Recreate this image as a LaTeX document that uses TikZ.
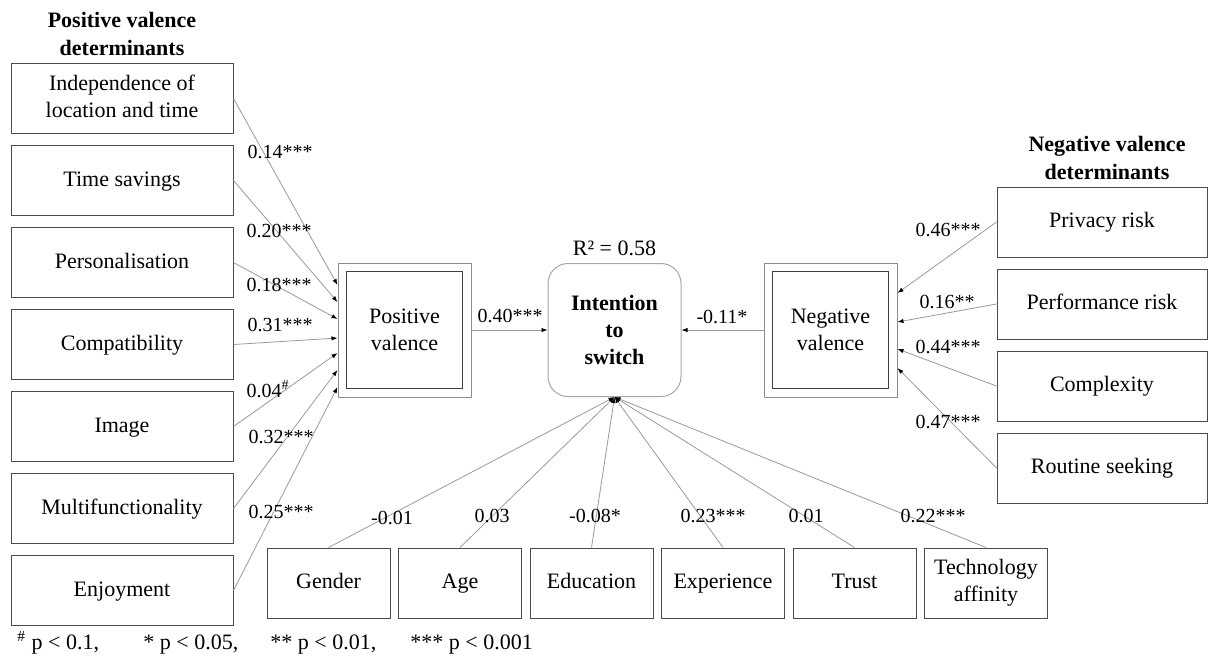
\documentclass[tikz,border=0pt]{standalone}
\usepackage{fontspec}
\setmainfont{Liberation Serif}
\newfontfamily\boxfont{Liberation Serif}
\newcommand\boxstrut{\vrule width 0pt height 8pt depth 2.4pt}
\usetikzlibrary{arrows.meta, positioning, calc}

\begin{document}
\begin{tikzpicture}[
  x=0.5pt, y=-0.5pt,
  font=\boxfont\fontsize{11}{13.5}\selectfont,
  node distance=5.5pt,
  detbox/.style  ={rectangle, draw=black!70, line width=0.5pt, minimum width=111pt, minimum height=35pt, align=center, inner sep=2pt,
                   font=\boxfont\fontsize{11}{13.5}\selectfont, execute at begin node=\boxstrut, execute at end node=\boxstrut},
  riskbox/.style ={detbox, minimum width=105pt},
  ctrlbox/.style ={detbox, minimum width=61.5pt},
  latent/.style  ={rectangle, draw=black!45, line width=0.5pt, minimum width=66.5pt, minimum height=67pt},
  latentin/.style={rectangle, draw=black!75, line width=0.5pt, minimum width=58pt, minimum height=58.5pt, align=center,
                   font=\boxfont\fontsize{11}{13.5}\selectfont},
  target/.style  ={rectangle, rounded corners=10pt, draw=black!35, line width=0.5pt, minimum width=66.5pt, minimum height=66.5pt, align=center,
                   font=\boxfont\fontsize{11}{13.5}\selectfont\bfseries},
  heading/.style ={align=center, font=\boxfont\fontsize{11}{14}\selectfont\bfseries},
  coef/.style    ={font=\boxfont\fontsize{10}{12}\selectfont, inner sep=0pt},
  note/.style    ={anchor=base west, inner sep=0pt, font=\boxfont\fontsize{11}{13}\selectfont},
  link/.style    ={-{Latex[length=3pt,width=2.2pt,color=black]}, draw=black!40, line width=0.4pt}
]
\useasboundingbox (0,0) rectangle (1216,661);

% ---- positive valence determinants (left column) ----
\node[heading] (poshead) at (122,34) {Positive valence\\determinants};
\node[detbox] (indep) at (122,98.5) {Independence of\\location and time};
\node[detbox] (tsave) [below=of indep] {Time savings};
\node[detbox] (perso) [below=of tsave] {Personalisation};
\node[detbox] (compa) [below=of perso] {Compatibility};
\node[detbox] (image) [below=of compa] {Image};
\node[detbox] (multi) [below=of image] {Multifunctionality};
\node[detbox] (enjoy) [below=of multi] {Enjoyment};

% ---- valences and outcome (middle row) ----
\node[latent]   (pv) at (404.5,330) {};
\node[latentin] (pvtext) at (pv.center) {Positive\\valence};
\node[target]   (it) [right=38pt of pv] {Intention\\to\\switch};
\node[coef, font=\boxfont\fontsize{11}{13}\selectfont] (rsq) [above=3.5pt of it] {R² = 0.58};
\node[latent]   (nv) [right=41pt of it] {};
\node[latentin] (nvtext) at (nv.center) {Negative\\valence};

% ---- negative valence determinants (right column) ----
\node[heading] (neghead) at (1107,158) {Negative valence\\determinants};
\node[riskbox] (priv) at (1102,222) {Privacy risk};
\node[riskbox] (perf) [below=of priv] {Performance risk};
\node[riskbox] (cplx) [below=of perf] {Complexity};
\node[riskbox] (rout) [below=of cplx] {Routine seeking};

% ---- control variables (bottom row) ----
\node[ctrlbox] (gender) at (328.5,583) {Gender};
\node[ctrlbox] (age)   [right=3.75pt of gender] {Age};
\node[ctrlbox] (edu)   [right=3.75pt of age] {Education};
\node[ctrlbox] (exper) [right=3.75pt of edu] {Experience};
\node[ctrlbox] (trust) [right=3.75pt of exper] {Trust};
\node[ctrlbox] (techaff) [right=3.75pt of trust] {Technology\\affinity};

% ---- edges ----
\draw[link] (indep.east) -- ($(pv.west)+(0,-45)$);
\draw[link] (tsave.east) -- ($(pv.west)+(0,-28)$);
\draw[link] (perso.east) -- ($(pv.west)+(0,-11)$);
\draw[link] (compa.east) -- ($(pv.west)+(0,8)$);
\draw[link] (image.east) -- ($(pv.west)+(0,23)$);
\draw[link] (multi.east) -- ($(pv.west)+(0,40)$);
\draw[link] (enjoy.east) -- ($(pv.west)+(0,57)$);

\draw[link] (priv.west) -- ($(nv.east)+(0,-37)$);
\draw[link] (perf.west) -- ($(nv.east)+(0,-8)$);
\draw[link] (cplx.west) -- ($(nv.east)+(0,19)$);
\draw[link] (rout.west) -- ($(nv.east)+(0,38)$);

\draw[link] (pv) -- (it);
\draw[link] (nv) -- (it);

\draw[link] (gender.north)  -- (it.south);
\draw[link] (age.north)     -- (it.south);
\draw[link] (edu.north)     -- (it.south);
\draw[link] (exper.north)   -- (it.south);
\draw[link] (trust.north)   -- (it.south);
\draw[link] (techaff.north) -- (it.south);

% ---- path coefficients ----
\node[coef] (c-indep) at (280,152) {0.14***};
\node[coef] (c-tsave) at (279,231) {0.20***};
\node[coef] (c-perso) at (279,285) {0.18***};
\node[coef] (c-compa) at (280,325) {0.31***};
\node[coef] (c-image) at (268,389) {0.04\textsuperscript{\#}};
\node[coef] (c-multi) at (281,437) {0.32***};
\node[coef] (c-enjoy) at (281,512) {0.25***};

\node[coef] (c-pv) at (510,316) {0.40***};
\node[coef] (c-nv) at (722,317) {-0.11*};

\node[coef] (c-priv) at (948,230) {0.46***};
\node[coef] (c-perf) at (947,302) {0.16**};
\node[coef] (c-cplx) at (948,347) {0.44***};
\node[coef] (c-rout) at (948,422) {0.47***};

\node[coef] (c-gender) at (392,518) {-0.01};
\node[coef] (c-age)    at (492,516) {0.03};
\node[coef] (c-edu)    at (595,516) {-0.08*};
\node[coef] (c-exper)  at (713,516) {0.23***};
\node[coef] (c-trust)  at (806,516) {0.01};
\node[coef] (c-tech)   at (933,516) {0.22***};

% ---- significance legend ----
\node[note] (sig1) at (17,649)  {\textsuperscript{\#} p < 0.1,};
\node[note] (sig2) at (143,649) {* p < 0.05,};
\node[note] (sig3) at (270,649) {** p < 0.01,};
\node[note] (sig4) at (410,649) {*** p < 0.001};

\end{tikzpicture}
\end{document}
